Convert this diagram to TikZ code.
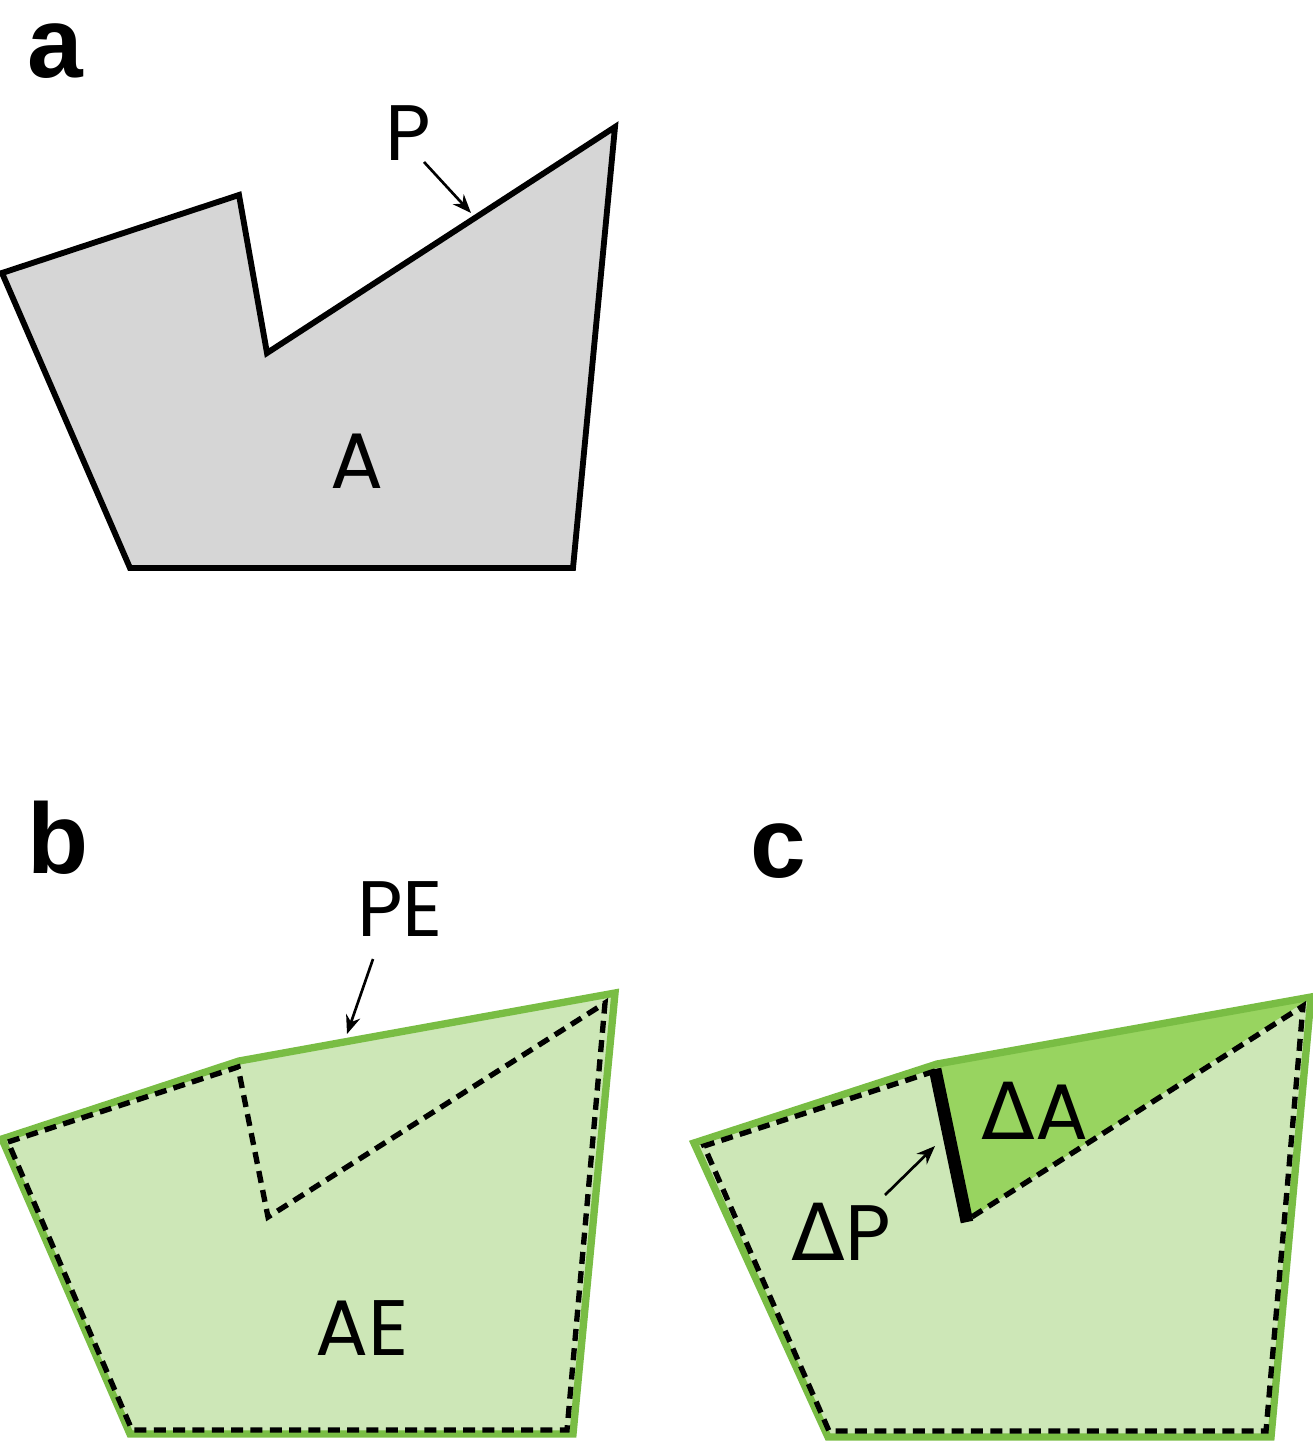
\documentclass[tikz,border=0pt]{standalone}
\usepackage{fontspec}
\setmainfont{Poppins}
\newfontfamily\gk{DejaVu Sans}
\newfontfamily\hv{Liberation Sans}
\usetikzlibrary{arrows.meta}
\definecolor{gry}{HTML}{D6D6D6}
\definecolor{lgrn}{HTML}{CDE7B7}
\definecolor{grn}{HTML}{79BD44}
\definecolor{dgrn}{HTML}{98D460}
\begin{document}
\begin{tikzpicture}[x=0.75pt,y=-0.75pt,
  outl/.style={draw=black, fill=gry, line width=4.4pt, line join=miter},
  hull/.style={draw=grn, line width=5.5pt, line join=miter},
  dsh/.style={line width=4pt, dash pattern=on 9pt off 5.5pt},
  lbl/.style={inner sep=0pt, font=\fontsize{59}{60}\selectfont},
  pan/.style={inner sep=0pt, font=\hv\bfseries\fontsize{75}{76}\selectfont},
  arr/.style={line width=2pt, -{Stealth[length=14pt,width=11pt]}}]
\useasboundingbox (0,0) rectangle (1312,1451);

% ---------- panel a ----------
\node[pan] (la) at (55,51) {a};
\draw[outl] (2,273) -- (239,195) -- (267,353) -- (615,127) -- (573,568) -- (130,568) -- cycle;
\node[lbl] (P) at (408,133) {P};
\node[lbl] (A) at (357,461) {A};
\coordinate (pa0) at (424,162);
\coordinate (pa1) at (471,213);
\draw[arr] (pa0) -- (pa1);

% ---------- panel b ----------
\node[pan] (lb) at (58,838) {b};
\fill[lgrn] (2,1139) -- (239,1061) -- (615,993) -- (573,1434) -- (130,1434) -- cycle;
\draw[hull] (2,1139) -- (239,1061) -- (615,993) -- (573,1434) -- (130,1434) -- cycle;
\draw[dsh] (8,1142) -- (238,1067) -- (268,1217) -- (605,1003) -- (567,1430) -- (132,1430) -- cycle;
\node[lbl] (PE) at (400,909) {PE};
\node[lbl] (AE) at (362,1328) {AE};
\coordinate (pb0) at (373,959);
\coordinate (pb1) at (347,1034);
\draw[arr] (pb0) -- (pb1);

% ---------- panel c ----------
\node[pan] (lc) at (778,851) {c};
\fill[lgrn] (694,1143) -- (937,1064) -- (1311,997) -- (1271,1437) -- (828,1437) -- cycle;
\fill[dgrn] (937,1066) -- (1309,999) -- (966,1221) -- cycle;
\draw[hull] (694,1143) -- (937,1064) -- (1311,997) -- (1271,1437) -- (828,1437) -- cycle;
\draw[dsh] (935,1071) -- (704,1146) -- (829,1431) -- (1266,1431) -- (1303,1006) -- (967,1220);
\draw[line width=9.5pt] (935,1069) -- (967,1222);
\node[lbl] (dA) at (1035,1111) {{\gk Δ}A};
\node[lbl] (dP) at (841,1232) {{\gk Δ}P};
\coordinate (pc0) at (885,1195);
\coordinate (pc1) at (935,1146);
\draw[arr] (pc0) -- (pc1);
\end{tikzpicture}
\end{document}
